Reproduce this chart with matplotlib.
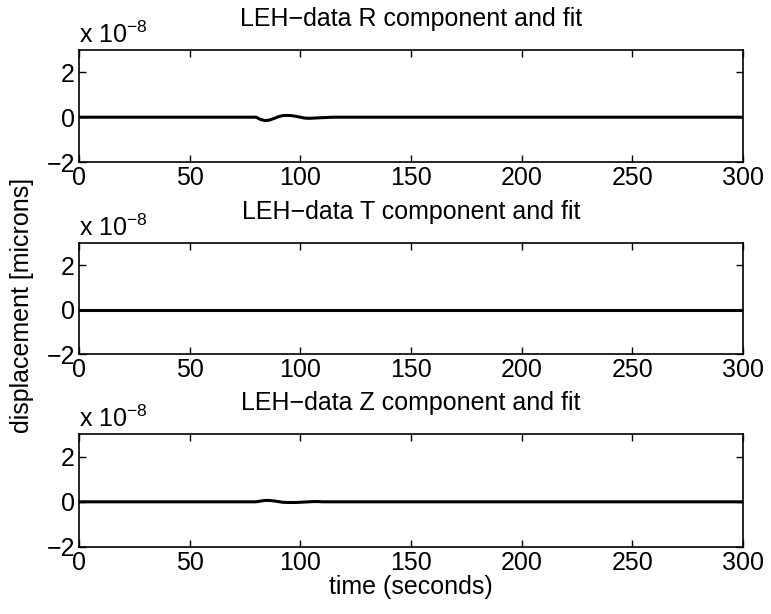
import matplotlib
matplotlib.use("Agg")
import matplotlib.pyplot as plt
import numpy as np

plt.rcParams['font.family'] = ['Liberation Sans', 'DejaVu Sans']
plt.rcParams['mathtext.fontset'] = 'custom'
plt.rcParams['mathtext.rm'] = 'Liberation Sans'
plt.rcParams['mathtext.it'] = 'Liberation Sans'

SCALE = 1e-8

# R component (displacement, microns)
r_time = [0, 78, 80, 82, 84, 86, 88, 90, 92, 94, 96, 98, 100, 102, 104, 106, 108, 110, 115, 120, 300]
r_vals = [0, 0, 0, -0.10, -0.15, -0.13, -0.06, 0.02, 0.07, 0.08, 0.07, 0.04, 0.0, -0.04, -0.05,
          -0.04, -0.03, -0.02, 0.0, 0.0, 0]
# T component
t_time = [0, 300]
t_vals = [0, 0]
# Z component
z_time = [0, 80, 82, 84, 86, 88, 90, 92, 94, 96, 98, 100, 102, 104, 106, 108, 110, 300]
z_vals = [0, 0, 0.03, 0.06, 0.06, 0.04, 0.01, -0.02, -0.03, -0.03, -0.03, -0.02, -0.01, 0, 0.01,
          0.01, 0, 0]

series = [("R", r_time, r_vals), ("T", t_time, t_vals), ("Z", z_time, z_vals)]
titles = ["LEH\u2212data %s component and fit" % s[0] for s in series]
xticks = [0, 50, 100, 150, 200, 250, 300]
yticks = [-2, 0, 2]

W, H = 771, 614
fig = plt.figure(figsize=(W / 100, H / 100), dpi=100)

# axes positions in pixels: (top, bottom)
left_px, right_px = 79, 743
panels_px = [(50, 162), (243, 354), (434, 547)]

fs = 18
for (name, tt, vv), title, (top, bot) in zip(series, titles, panels_px):
    ax = fig.add_axes([left_px / W, 1 - bot / H, (right_px - left_px) / W, (bot - top) / H])
    y = np.array(vv) * SCALE
    ax.plot(tt, y / SCALE, color='black', linewidth=2.2)
    ax.set_xlim(0, 300)
    ax.set_ylim(-2, 3)
    ax.set_xticks(xticks)
    ax.set_yticks(yticks)
    ax.set_yticklabels(["\u22122", "0", "2"])
    ax.tick_params(direction='in', top=True, right=True, labelsize=fs, length=5, width=1.0, pad=3)
    for sp in ax.spines.values():
        sp.set_linewidth(1.2)
    ax.set_title(title, fontsize=fs, pad=17)
    ax.annotate(r'x 10$^{\mathrm{-8}}$', xy=(0, 1), xycoords='axes fraction',
                xytext=(0, 5), textcoords='offset points', fontsize=fs,
                ha='left', va='baseline')
    last = ax

last.set_xlabel("time (seconds)", fontsize=fs, labelpad=0)
fig.text(22 / W, 1 - 305 / H, "displacement [microns]", rotation=90, fontsize=fs,
         ha='center', va='center')

fig.savefig("out.png", dpi=100, facecolor='white')
